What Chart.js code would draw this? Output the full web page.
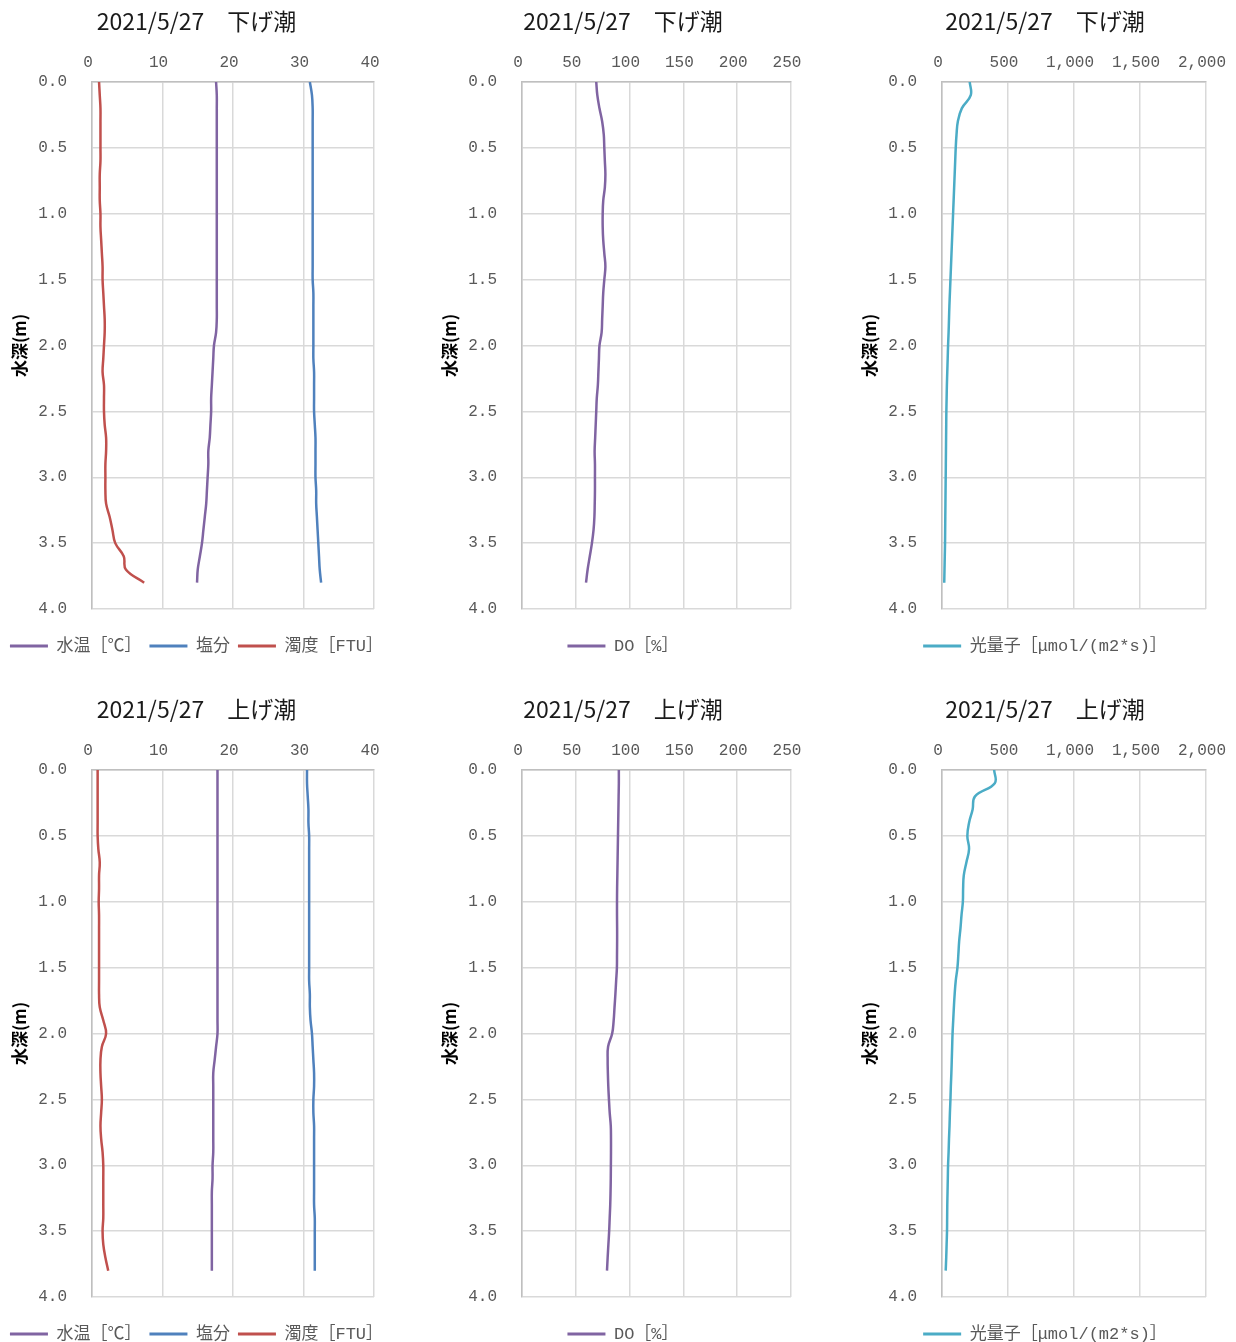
<!DOCTYPE html>
<html lang="ja">
<head>
<meta charset="utf-8">
<title>2021/5/27 水質鉛直分布</title>
<script src="https://cdn.jsdelivr.net/npm/chart.js@4.4.1/dist/chart.umd.min.js"></script>
<style>
  html, body { margin: 0; padding: 0; background: #fff; overflow: hidden; }
  body { width: 1236px; height: 1342px; position: relative; }
  canvas { position: absolute; }
</style>
</head>
<body>
<canvas id="ebbWater"   style="left:0;    top:0"     width="393" height="665"></canvas>
<canvas id="ebbDo"      style="left:439px;top:0"     width="368" height="665"></canvas>
<canvas id="ebbLight"   style="left:859px;top:0"     width="372" height="665"></canvas>
<canvas id="floodWater" style="left:0;    top:688px" width="393" height="665"></canvas>
<canvas id="floodDo"    style="left:439px;top:688px" width="368" height="665"></canvas>
<canvas id="floodLight" style="left:859px;top:688px" width="372" height="665"></canvas>
<script>
// Sampling depths (m)
const depth = [0.0, 0.1, 0.2, 0.3, 0.4, 0.5, 0.6, 0.7, 0.8, 0.9,
               1.0, 1.1, 1.2, 1.3, 1.4, 1.5, 1.6, 1.7, 1.8, 1.9,
               2.0, 2.1, 2.2, 2.3, 2.4, 2.5, 2.6, 2.7, 2.8, 2.9,
               3.0, 3.1, 3.2, 3.3, 3.4, 3.5, 3.6, 3.7, 3.8];

// 下げ潮 (ebb tide) profiles
const ebbTemp = [17.6, 17.7, 17.7, 17.7, 17.7, 17.7, 17.7, 17.7, 17.7, 17.7,
                 17.7, 17.7, 17.7, 17.7, 17.7, 17.7, 17.7, 17.7, 17.7, 17.6,
                 17.3, 17.2, 17.1, 17.0, 16.9, 16.9, 16.8, 16.7, 16.5, 16.5,
                 16.4, 16.3, 16.2, 16.0, 15.8, 15.6, 15.3, 15.0, 14.9];
const ebbSalinity = [30.9, 31.2, 31.3, 31.3, 31.3, 31.3, 31.3, 31.3, 31.3, 31.3,
                     31.3, 31.3, 31.3, 31.3, 31.3, 31.3, 31.4, 31.4, 31.4, 31.4,
                     31.4, 31.4, 31.5, 31.5, 31.5, 31.5, 31.6, 31.7, 31.7, 31.7,
                     31.7, 31.8, 31.8, 31.9, 32.0, 32.1, 32.2, 32.3, 32.5];
const ebbTurbidity = [1.0, 1.1, 1.2, 1.2, 1.2, 1.2, 1.2, 1.1, 1.1, 1.1,
                      1.2, 1.2, 1.3, 1.4, 1.5, 1.5, 1.6, 1.7, 1.8, 1.8,
                      1.7, 1.6, 1.5, 1.7, 1.7, 1.7, 1.8, 2.0, 2.0, 1.9,
                      1.9, 1.9, 2.0, 2.5, 2.9, 3.3, 4.5, 4.8, 7.4];
const ebbDO = [69, 70, 72, 74.5, 76, 76.5, 77, 77.5, 77, 75.5,
               75, 75, 75.5, 76.5, 77.5, 76.5, 75.5, 75, 74.5, 74,
               72, 71.5, 71, 70.5, 69.5, 69, 68.5, 68, 67.5, 67.8,
               67.8, 67.8, 67.6, 67.3, 66.5, 65, 63, 61, 59.5];
const ebbPhoton = [210, 218, 150, 120, 110, 104, 100, 96, 92, 88,
                   84, 80, 76, 72, 68, 64, 60, 56, 53, 50,
                   46, 43, 40, 37, 35, 33, 32, 31, 30, 29,
                   28, 27, 26, 25, 24, 23, 21, 19, 17];

// 上げ潮 (flood tide) profiles
const floodTemp = [17.8, 17.8, 17.8, 17.8, 17.8, 17.8, 17.8, 17.8, 17.8, 17.8,
                   17.8, 17.8, 17.8, 17.8, 17.8, 17.8, 17.8, 17.8, 17.8, 17.8,
                   17.8, 17.6, 17.4, 17.2, 17.2, 17.2, 17.2, 17.2, 17.2, 17.2,
                   17.1, 17.1, 17.0, 17.0, 17.0, 17.0, 17.0, 17.0, 17.0];
const floodSalinity = [30.5, 30.5, 30.6, 30.7, 30.7, 30.8, 30.8, 30.8, 30.8, 30.8,
                       30.8, 30.8, 30.8, 30.8, 30.8, 30.8, 30.8, 30.9, 30.9, 31.0,
                       31.2, 31.3, 31.4, 31.5, 31.5, 31.4, 31.4, 31.5, 31.5, 31.5,
                       31.5, 31.5, 31.5, 31.5, 31.6, 31.6, 31.6, 31.6, 31.6];
const floodTurbidity = [0.8, 0.8, 0.8, 0.8, 0.8, 0.8, 0.9, 1.1, 1.0, 1.0,
                        0.95, 1.0, 1.0, 1.0, 1.0, 1.0, 1.0, 1.0, 1.1, 1.6,
                        2.0, 1.4, 1.2, 1.2, 1.3, 1.4, 1.3, 1.2, 1.3, 1.5,
                        1.6, 1.6, 1.6, 1.6, 1.6, 1.5, 1.6, 1.9, 2.3];
const floodDO = [90, 90, 89.8, 89.6, 89.4, 89.2, 89, 88.8, 88.6, 88.4,
                 88.3, 88.3, 88.4, 88.4, 88.3, 88.2, 87.5, 86.8, 86, 85.2,
                 83.8, 80, 79.6, 79.8, 80.2, 80.8, 81.5, 82.5, 82.7, 82.7,
                 82.6, 82.5, 82.3, 82, 81.5, 81, 80.3, 79.6, 79];
const floodPhoton = [395, 400, 250, 232, 205, 192, 205, 185, 165, 160,
                     158, 148, 140, 130, 124, 117, 104, 96, 90, 85,
                     80, 77, 74, 71, 67, 64, 60, 57, 53, 50,
                     46, 44, 42, 40, 39, 38, 35, 32, 28];

// Labels
const dateLabel = '2021/5/27';
const ebbLabel = '下げ潮';
const floodLabel = '上げ潮';
const depthTitle = '水深(m)';
const tempName = '水温［℃］';
const salinityName = '塩分';
const turbidityName = '濁度［FTU］';
const doName = 'DO［%］';
const photonName = '光量子［μmol/(m2*s)］';

const PURPLE = '#8064a2', BLUE = '#4f81bd', RED = '#c0504d', CYAN = '#4bacc6';
const TICK_FONT = { family: '"Liberation Mono", "Noto Sans CJK JP", monospace', size: 16 };
const GRID = '#d9d9d9';

function profile(values, name, color) {
  return {
    label: name,
    data: values.map((v, i) => ({ x: v, y: depth[i] })),
    borderColor: color,
    backgroundColor: color,
    borderWidth: 2.5,
    pointRadius: 0,
    showLine: true,
    tension: 0.4,
    fill: false
  };
}

// axisWidth: room left of the plot for depth labels and title;
// titleGap: space between the left edge and the depth title;
// rightGap: blank margin right of the plot
function drawProfile(id, tide, datasets, xMax, xStep, axisWidth, titleGap, rightGap) {
  new Chart(document.getElementById(id), {
    type: 'scatter',
    data: { datasets },
    options: {
      responsive: false,
      animation: false,
      events: [],
      layout: { padding: { left: 0, right: 0, top: 0, bottom: 0.5 } },
      plugins: {
        title: {
          display: true,
          text: dateLabel + '\u3000' + tide,
          color: '#1a1a1a',
          font: { family: '"Noto Sans CJK JP", sans-serif', size: 23, weight: 'normal' },
          padding: { top: 7.7, bottom: 6.7 }
        },
        legend: {
          position: 'bottom',
          title: { display: true, text: '', font: { size: 1 }, padding: { top: 0, bottom: 19.3 } },
          labels: {
            boxWidth: 38,
            boxHeight: 3,
            padding: 8,
            color: '#595959',
            font: { family: '"Liberation Mono", "Noto Sans CJK JP", monospace', size: 17 },
            generateLabels(chart) {
              return Chart.defaults.plugins.legend.labels.generateLabels(chart)
                .map(item => Object.assign(item, { lineWidth: 0 }));
            }
          }
        },
        tooltip: { enabled: false }
      },
      scales: {
        x: {
          type: 'linear',
          position: 'top',
          min: 0,
          max: xMax,
          ticks: {
            stepSize: xStep,
            padding: 10,
            labelOffset: -4,
            maxRotation: 0,
            autoSkip: false,
            color: '#595959',
            font: TICK_FONT,
            callback: v => Number(v).toLocaleString('en-US')
          },
          grid: { color: GRID, lineWidth: 1.5, drawTicks: false },
          border: { color: '#bfbfbf', width: 1.5 },
          afterFit(scale) {
            scale.height = 40;
            scale.paddingLeft = 0;
            scale.paddingRight = rightGap;
          }
        },
        y: {
          type: 'linear',
          reverse: true,
          min: 0,
          max: 4,
          ticks: {
            stepSize: 0.5,
            padding: 25,
            color: '#595959',
            font: TICK_FONT,
            callback: v => Number(v).toFixed(1)
          },
          grid: { color: GRID, lineWidth: 1.5, drawTicks: false },
          border: { color: '#bfbfbf', width: 1.5 },
          title: {
            display: true,
            text: depthTitle,
            color: '#000',
            font: { family: '"Noto Sans CJK JP", sans-serif', size: 17, weight: 'bold' },
            padding: { top: titleGap, bottom: 0 }
          },
          afterFit(scale) {
            scale.width = axisWidth;
            scale.paddingTop = 0;
            scale.paddingBottom = 0;
          }
        }
      }
    }
  });
}

drawProfile('ebbWater', ebbLabel, [
  profile(ebbTemp, tempName, PURPLE),
  profile(ebbSalinity, salinityName, BLUE),
  profile(ebbTurbidity, turbidityName, RED)
], 40, 10, 92, 9.8, 19);
drawProfile('ebbDo', ebbLabel, [profile(ebbDO, doName, PURPLE)], 250, 50, 83, 0, 16);
drawProfile('ebbLight', ebbLabel, [profile(ebbPhoton, photonName, CYAN)], 2000, 500, 83, 0, 25);

drawProfile('floodWater', floodLabel, [
  profile(floodTemp, tempName, PURPLE),
  profile(floodSalinity, salinityName, BLUE),
  profile(floodTurbidity, turbidityName, RED)
], 40, 10, 92, 9.8, 19);
drawProfile('floodDo', floodLabel, [profile(floodDO, doName, PURPLE)], 250, 50, 83, 0, 16);
drawProfile('floodLight', floodLabel, [profile(floodPhoton, photonName, CYAN)], 2000, 500, 83, 0, 25);
</script>
</body>
</html>
